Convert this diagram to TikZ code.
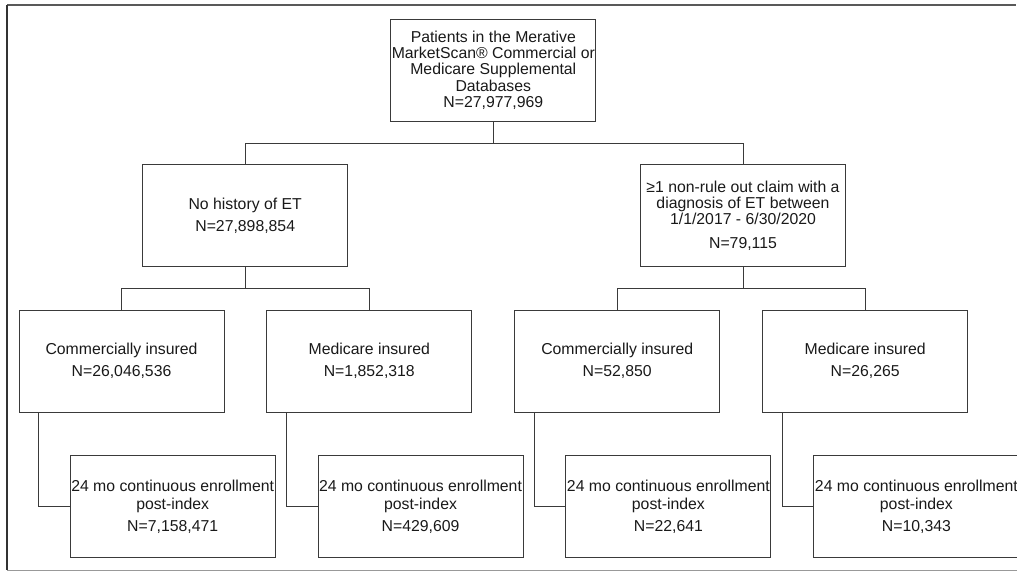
\documentclass[tikz,border=0pt]{standalone}
\usepackage{fontspec}
\setmainfont{Liberation Sans}
\definecolor{boxline}{HTML}{3A3A3A}
\tikzset{
	flowbox/.style={draw=boxline, line width=0.9pt, minimum width=205pt, minimum height=102pt, inner sep=0pt, align=center, font=\fontsize{15.8}{16.2}\selectfont, text=black!90},
	link/.style={draw=boxline, line width=0.9pt},
}

\begin{document}
\begin{tikzpicture}[x=1pt,y=-1pt]
		\useasboundingbox (0,0) rectangle (1017,571);
		% frame
		\draw[line width=1.6pt, color=black!65] (7,5) -- (1016,5);
		\draw[line width=1.4pt, color=black!80] (7,5) -- (7,570);
		\draw[line width=1pt, color=black!40] (7,570) -- (1017,570);
		% top levels
		\node[flowbox] (all) at (493.3,70.2) {Patients in the Merative\\MarketScan® Commercial or\\Medicare Supplemental\\Databases\\N=27,977,969};
		\node[flowbox] (noet) at (245.2,215.7) {No history of ET\\[6pt]N=27,898,854};
		\node[flowbox] (et) at (743,215.7) {≥1 non-rule out claim with a\\diagnosis of ET between\\1/1/2017 - 6/30/2020\\[8pt]N=79,115};
		% insurance and enrollment
		\foreach \i/\x/\grp/\nfirst/\nfull in {a/121.5/{Commercially insured}/{26,046,536}/{7,158,471}, b/369.3/{Medicare insured}/{1,852,318}/{429,609}, c/617.2/{Commercially insured}/{52,850}/{22,641}, d/865.2/{Medicare insured}/{26,265}/{10,343}} {
			\node[flowbox] (ins\i) at (\x,361) {\grp\\[6pt]N=\nfirst};
			\node[flowbox] (enr\i) at ({\x+51.2},506.7) {24 mo continuous enrollment\\[2pt]post-index\\[6pt]N=\nfull};
			\draw[link] ([xshift=20pt]ins\i.south west) |- (enr\i.west);
		}
		\draw[link] (all.south) -- ++(0,21.7) coordinate (split0);
		\draw[link] (noet.north) |- (split0) -| (et.north);
		\draw[link] (noet.south) -- ++(0,21.7) coordinate (split1);
		\draw[link] (insa.north) |- (split1) -| (insb.north);
		\draw[link] (et.south) -- ++(0,21.7) coordinate (split2);
		\draw[link] (insc.north) |- (split2) -| (insd.north);
	\end{tikzpicture}
\end{document}
